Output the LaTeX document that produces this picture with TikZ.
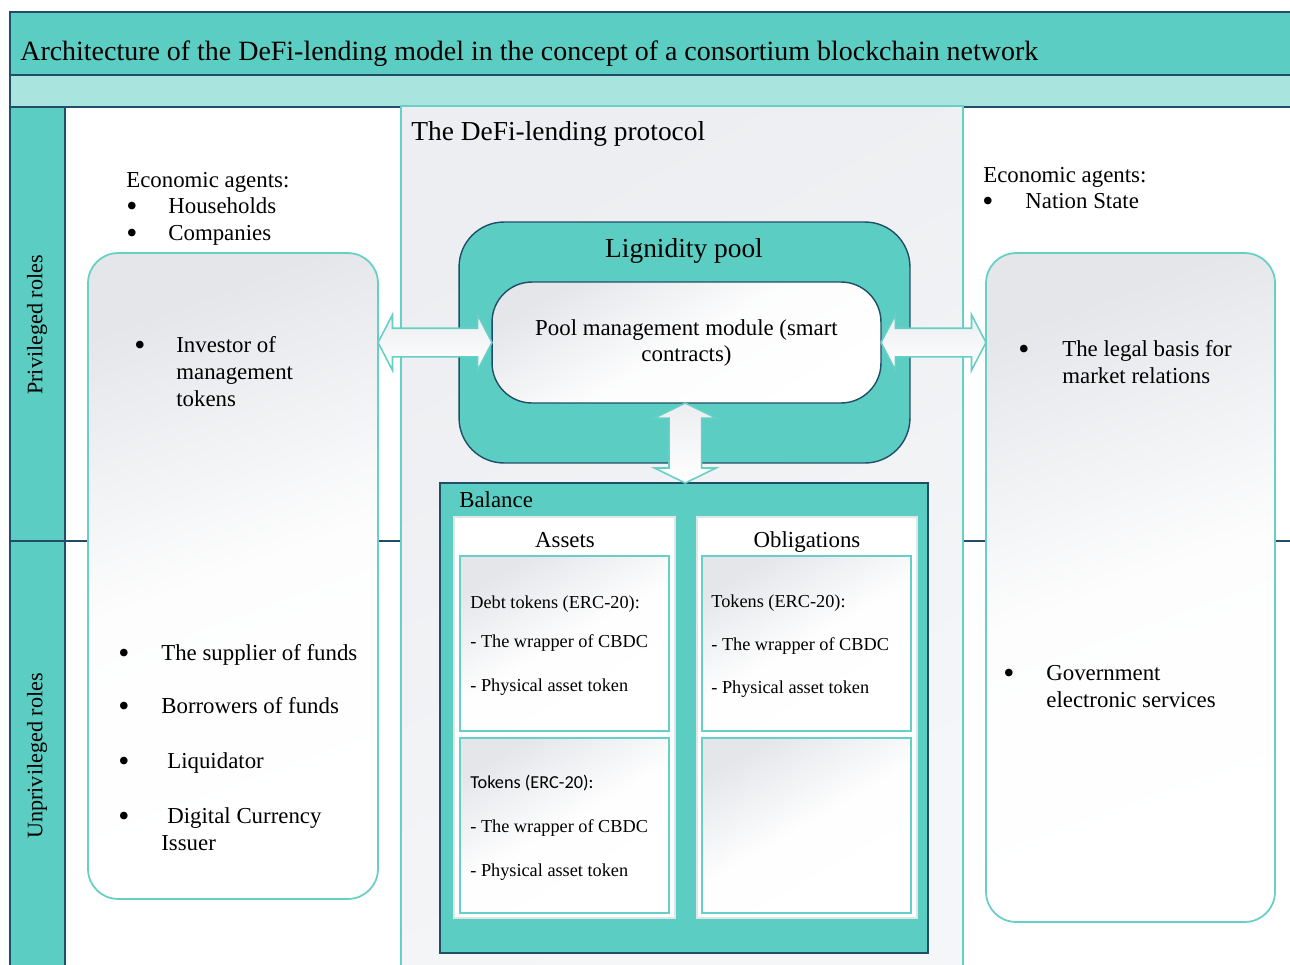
\documentclass[tikz,border=0pt]{standalone}
\usepackage{fontspec}
\setmainfont{Liberation Serif}
\newfontfamily\calibrifont{Carlito}
\usetikzlibrary{shapes.arrows,calc}
\definecolor{teal1}{RGB}{92,205,194}
\definecolor{teal2}{RGB}{170,228,223}
\definecolor{darkb}{RGB}{31,78,104}
\definecolor{lteal}{RGB}{102,207,198}
\definecolor{sgray}{RGB}{228,230,234}
\definecolor{pgray}{RGB}{236,238,241}
\definecolor{colb}{RGB}{222,230,230}
\newcommand\FBig{\fontsize{15.6pt}{18pt}\selectfont}
\newcommand\FTitle{\fontsize{15.9pt}{18pt}\selectfont}
\newcommand\FReg{\fontsize{13pt}{14.8pt}\selectfont}
\newcommand\FRot{\fontsize{12.6pt}{14pt}\selectfont}
\newcommand\FSm{\fontsize{10.4pt}{12pt}\selectfont}
\newcommand\FBul{\fontsize{18pt}{18pt}\selectfont}
\begin{document}
\begin{tikzpicture}[x=0.02cm,y=-0.02cm,
  txt/.style={inner sep=0pt, anchor=base west},
  bul/.style={inner sep=0pt, anchor=base, font=\FBul, yshift=-0.07cm, text height=0.4em, text depth=0pt},
  big/.style={font=\FBig},
  reg/.style={font=\FReg},
  sm/.style={font=\FSm},
  softshade/.style={top color=sgray, bottom color=white, middle color=white!93!sgray, shading angle=20},
  roundbox/.style={draw=lteal, line width=1pt, rounded corners=0.6cm,
    softshade, inner sep=0pt, outer sep=0pt},
  tealbox/.style={draw=darkb, line width=0.8pt, fill=teal1, inner sep=0pt, outer sep=0pt},
  colbox/.style={draw=colb, line width=1pt, fill=white, inner sep=0pt, outer sep=0pt},
  cellbox/.style={draw=lteal, line width=1pt, top color=sgray, bottom color=white,
    middle color=white!96!sgray, shading angle=30, inner sep=0pt, outer sep=0pt},
  blockarrow/.style={double arrow, draw=lteal, line width=0.9pt,
    top color=sgray!70!white, bottom color=white, inner xsep=0pt, inner ysep=0.27cm, outer sep=0pt,
    double arrow tip angle=125, double arrow head extend=0.27cm}
]
\clip (0,0) rectangle (1290,964);
\useasboundingbox (0,0) rectangle (1290,964);
\fill[white] (0,0) rectangle (1290,964);
% bands
\draw[fill=teal1, draw=darkb, line width=0.9pt] (10,12) rectangle (1300,75);
\draw[fill=teal2, draw=darkb, line width=0.9pt] (10,75) rectangle (1300,107);
\draw[fill=teal1, draw=darkb, line width=0.9pt] (10,107) rectangle (65,980);
\draw[draw=darkb, line width=0.9pt] (10,541) -- (1300,541);
% protocol panel
\node[draw=lteal, line width=1pt, top color=pgray, bottom color=white!50!pgray, shading angle=30,
  minimum width=11.24cm, minimum height=17.48cm, inner sep=0pt, outer sep=0pt] (panel) at (682,543) {};
% side boxes
\node[roundbox, minimum width=5.8cm, minimum height=12.92cm] (lbox) at (233,576) {};
\node[roundbox, minimum width=5.78cm, minimum height=13.38cm] (rbox) at (1130.5,587.5) {};
% liquidity pool
\node[tealbox, rounded corners=0.9cm, minimum width=9.02cm, minimum height=4.82cm] (pool) at (684.5,342.5) {};
\node[draw=darkb, line width=0.8pt, rounded corners=0.8cm, top color=sgray, bottom color=white,
  middle color=white!90!sgray, shading angle=30,
  minimum width=7.78cm, minimum height=2.42cm, inner sep=0pt, outer sep=0pt, align=center,
  font=\FReg] (pmm) at (686.5,342.5) {Pool management module (smart\\contracts)};
% balance
\node[tealbox, minimum width=9.76cm, minimum height=9.4cm] (bal) at (684,718) {};
\node[colbox, minimum width=4.42cm, minimum height=8.02cm] (acol) at (564.5,717.5) {};
\node[colbox, minimum width=4.4cm, minimum height=8.02cm] (ocol) at (807,717.5) {};
\node[cellbox, minimum width=4.18cm, minimum height=3.5cm] (a1) at (564.5,643.5) {};
\node[cellbox, minimum width=4.18cm, minimum height=3.5cm] (a2) at (564.5,825.5) {};
\node[cellbox, minimum width=4.18cm, minimum height=3.5cm] (o1) at (806.5,643.5) {};
\node[cellbox, minimum width=4.18cm, minimum height=3.5cm] (o2) at (806.5,825.5) {};
% arrows
\node[blockarrow, minimum height=2.28cm] (arrL) at ($(lbox.east |- pmm.west)!0.5!(pmm.west)$) {};
\node[blockarrow, minimum height=2.1cm] (arrR) at ($(pmm.east)!0.5!(rbox.west |- pmm.east)$) {};
\node[blockarrow, rotate=90, minimum height=1.6cm, inner ysep=0.31cm, double arrow head extend=0.29cm,
  double arrow tip angle=128]
  (arrV) at ($(pmm.south)!0.5!(bal.north)$) {};
% title texts
\node[txt, font=\FTitle] (title) at (20,60) {Architecture of the DeFi-lending model in the concept of a consortium blockchain network};
\node[txt, big] (ptitle) at (411,140) {The DeFi-lending protocol};
\node[inner sep=0pt, anchor=base, big] (pooltxt) at (684,257) {Lignidity pool};
% rotated
\node[font=\FRot, rotate=90, inner sep=0pt] (priv) at (37,325) {Privileged roles};
\node[font=\FRot, rotate=90, inner sep=0pt] (unpriv) at (37,756) {Unprivileged roles};
% left top agents
\node[txt, reg] (eal) at (126,187) {Economic agents:};
\node[bul] (b1) at (132,213) {\textbullet};
\node[txt, reg] (hh) at (168,213) {Households};
\node[bul] (b2) at (132,240) {\textbullet};
\node[txt, reg] (co) at (168,240) {Companies};
% right top agents
\node[txt, reg] (ear) at (983,182) {Economic agents:};
\node[bul] (b3) at (988,208) {\textbullet};
\node[txt, reg] (ns) at (1025,208) {Nation State};
% left box
\node[bul] (b4) at (140,352) {\textbullet};
\node[txt, reg] (inv1) at (176,352) {Investor of};
\node[txt, reg] (inv2) at (176,379) {management};
\node[txt, reg] (inv3) at (176,406) {tokens};
\node[bul] (b5) at (124,660) {\textbullet};
\node[txt, reg] (sup) at (161,660) {The supplier of funds};
\node[bul] (b6) at (124,713) {\textbullet};
\node[txt, reg] (bor) at (161,713) {Borrowers of funds};
\node[bul] (b7) at (124,768) {\textbullet};
\node[txt, reg] (liq) at (167,768) {Liquidator};
\node[bul] (b8) at (124,823) {\textbullet};
\node[txt, reg] (dig1) at (167,823) {Digital Currency};
\node[txt, reg] (dig2) at (161,850) {Issuer};
% right box
\node[bul] (b9) at (1024,356) {\textbullet};
\node[txt, reg] (leg1) at (1062,356) {The legal basis for};
\node[txt, reg] (leg2) at (1062,383) {market relations};
\node[bul] (b10) at (1009,680) {\textbullet};
\node[txt, reg] (gov1) at (1046,680) {Government};
\node[txt, reg] (gov2) at (1046,707) {electronic services};
% balance texts
\node[txt, reg] (baltxt) at (459,507) {Balance};
\node[inner sep=0pt, anchor=base, reg] (assets) at (565,547) {Assets};
\node[inner sep=0pt, anchor=base, reg] (oblig) at (807,547) {Obligations};
\node[txt, sm] (a1t1) at (470,608) {Debt tokens (ERC-20):};
\node[txt, sm] (a1t2) at (470,647) {- The wrapper of CBDC};
\node[txt, sm] (a1t3) at (470,691) {- Physical asset token};
\node[txt, font=\calibrifont\FSm] (a2t1) at (470,788) {Tokens (ERC-20):};
\node[txt, sm] (a2t2) at (470,832) {- The wrapper of CBDC};
\node[txt, sm] (a2t3) at (470,876) {- Physical asset token};
\node[txt, sm] (o1t1) at (711,607) {Tokens (ERC-20):};
\node[txt, sm] (o1t2) at (711,650) {- The wrapper of CBDC};
\node[txt, sm] (o1t3) at (711,693) {- Physical asset token};
\end{tikzpicture}
\end{document}
